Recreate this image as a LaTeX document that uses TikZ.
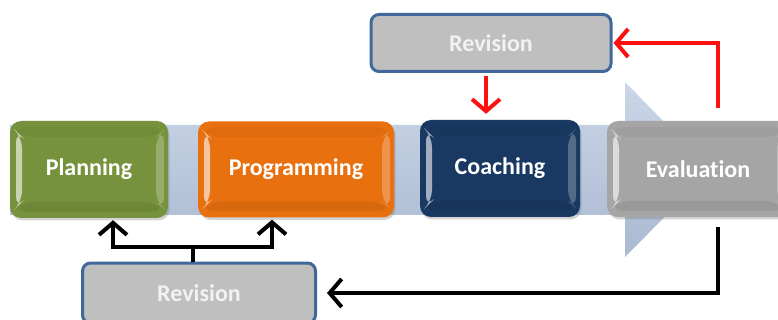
\documentclass[tikz,border=0pt]{standalone}
\usepackage{fontspec}
\setmainfont{Carlito}[Ligatures=NoCommon]
\usetikzlibrary{arrows.meta,shadows,calc}
\definecolor{cplan}{HTML}{76923C}
\definecolor{cprog}{HTML}{E8700F}
\definecolor{ccoach}{HTML}{1A3962}
\definecolor{ceval}{HTML}{A5A5A5}
\definecolor{crev}{HTML}{BFBFBF}
\definecolor{crevb}{HTML}{41689A}
\definecolor{bandtop}{HTML}{CBD7E8}
\definecolor{bandbot}{HTML}{A9B9D1}
\definecolor{cred}{HTML}{FF1010}
\tikzset{
  lbl/.style={font=\fontsize{24}{28}\selectfont\bfseries},
  btn/.style={lbl, text=white, rounded corners=11pt, fill=#1, inner sep=0pt,
    drop shadow={opacity=0.35, shadow xshift=1.5pt, shadow yshift=-2.5pt},
    path picture={
      \coordinate (nw) at (path picture bounding box.north west);
      \coordinate (se) at (path picture bounding box.south east);
      \coordinate (ne) at (path picture bounding box.north east);
      \coordinate (sw) at (path picture bounding box.south west);
      \fill[white,opacity=0.6] ($(nw)+(6pt,-10pt)$) -- ($(nw)+(12pt,-16pt)$) -- ($(sw)+(12pt,16pt)$) -- ($(sw)+(6pt,10pt)$) -- cycle;
      \fill[white,opacity=0.25] ($(ne)+(-4pt,-9pt)$) -- ($(ne)+(-12pt,-16pt)$) -- ($(se)+(-12pt,16pt)$) -- ($(se)+(-4pt,9pt)$) -- cycle;
      \fill[black,opacity=0.07] ($(sw)+(12pt,16pt)$) -- ($(se)+(-12pt,16pt)$) -- ($(se)+(-4pt,6pt)$) -- ($(sw)+(4pt,6pt)$) -- cycle;
      \fill[black,opacity=0.04] ($(nw)+(12pt,-16pt)$) -- ($(ne)+(-12pt,-16pt)$) -- ($(ne)+(-4pt,-6pt)$) -- ($(nw)+(4pt,-6pt)$) -- cycle;
    }},
  revbox/.style={lbl, text=white!90!gray, fill=crev, draw=crevb, line width=3pt,
    rounded corners=8pt, inner sep=0pt},
  barrow/.style={draw=black, line width=3.8pt, -{Straight Barb[length=12pt,width=28pt,line width=4pt]}},
  rarrow/.style={draw=cred, line width=3.8pt, -{Straight Barb[length=12pt,width=28pt,line width=4pt]}},
}
\begin{document}
\begin{tikzpicture}[x=1pt,y=-1pt]
\clip (0,0) rectangle (778,320);
\useasboundingbox (0,0) rectangle (778,320);
% background arrow
\shade[top color=bandtop, bottom color=bandbot]
  (10,125) -- (625,125) -- (625,82) -- (711,170) -- (625,257) -- (625,215) -- (10,215) -- cycle;
% main boxes
\node[btn=cplan, minimum width=158pt, minimum height=97pt] (plan) at (89,169.5) {Planning};
\node[btn=cprog, minimum width=196pt, minimum height=96pt] (prog) at (296,169.5) {Programming};
\node[btn=ccoach, minimum width=160pt, minimum height=97pt] (coach) at (500,168.5) {Coaching};
\node[btn=ceval, minimum width=182pt, minimum height=96pt] (eval) at (698,169) {Evaluation};
% revision boxes
\node[revbox, minimum width=240pt, minimum height=57pt] (trev) at (491,43) {Revision};
\node[revbox, minimum width=233pt, minimum height=60pt] (brev) at (199,293) {Revision};
% red connectors
\draw[rarrow, shorten <=13pt, shorten >=1pt] ([xshift=20pt]eval.north) |- (trev.east);
\draw[rarrow, shorten <=3pt, shorten >=6pt] ([xshift=-5pt]trev.south) -- ([xshift=-5pt]trev.south |- coach.north);
% black connectors
\draw[barrow, shorten <=10pt, shorten >=10pt] ([xshift=20pt]eval.south) |- (brev.east);
\coordinate (j) at (193,247);
\draw[line width=3.8pt] ([xshift=-6pt]brev.north) -- (j);
\draw[barrow, shorten >=2pt] (j) -| ([xshift=24pt]plan.south);
\draw[barrow, shorten >=2pt] (j) -| ([xshift=-24pt]prog.south);
\end{tikzpicture}
\end{document}
